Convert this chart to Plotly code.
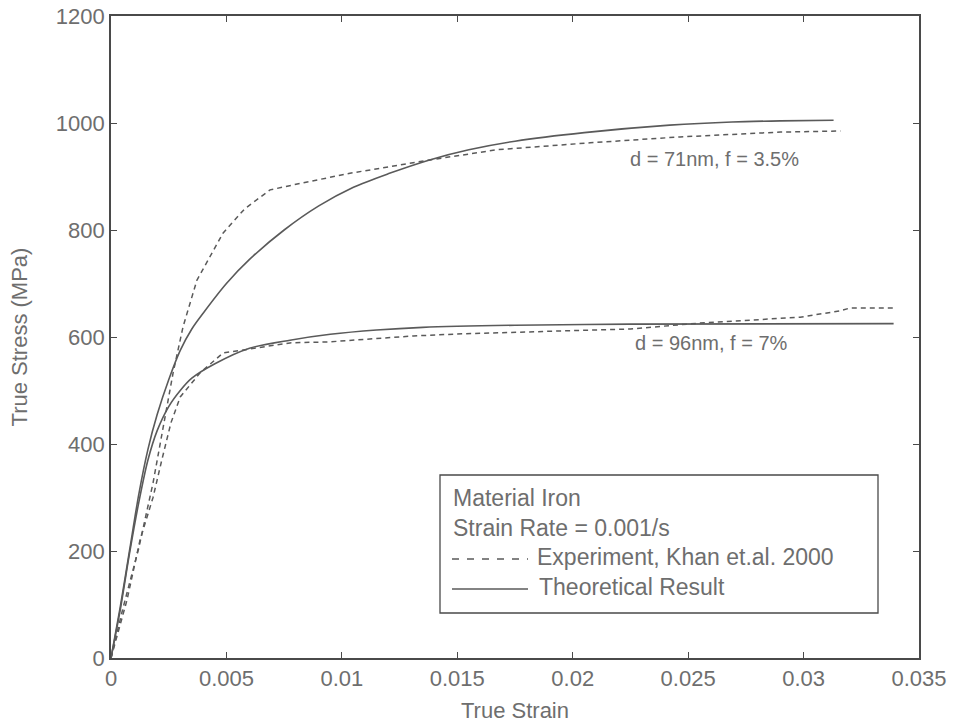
import plotly.graph_objects as go

# ---- data ----
theo71_x = [0, 0.0004, 0.0008, 0.0012, 0.0016, 0.002, 0.0025, 0.003, 0.0035, 0.004, 0.005,
            0.006, 0.0075, 0.009, 0.0105, 0.012, 0.0138, 0.0155, 0.0175, 0.0205, 0.0242,
            0.0269, 0.029, 0.0313]
theo71_y = [0, 95, 200, 305, 390, 455, 520, 575, 615, 645, 700,
            745, 800, 845, 880, 905, 931, 950, 966, 982, 996,
            1002, 1004, 1005]

exp71_x = [0, 0.0005, 0.0012, 0.00182, 0.00269, 0.00312, 0.00372, 0.00485, 0.0058, 0.00689,
           0.0083, 0.00949, 0.01035, 0.01382, 0.01672, 0.02075, 0.02465, 0.029, 0.0316]
exp71_y = [0, 90, 205, 327, 533, 619, 706, 794, 840, 875,
           888, 899, 906, 931, 950, 963, 974, 983, 985]

theo96_x = [0, 0.0004, 0.0008, 0.0012, 0.0016, 0.002, 0.0025, 0.003, 0.0035, 0.0045, 0.006,
            0.00775, 0.0095, 0.0115, 0.0135, 0.0175, 0.0225, 0.0339]
theo96_y = [0, 90, 195, 290, 370, 425, 470, 500, 523, 550, 579,
            594, 605, 613, 618, 622, 624, 625]

exp96_x = [0, 0.00069, 0.00126, 0.00182, 0.0022, 0.0026, 0.003, 0.00386, 0.00485, 0.0058,
           0.00775, 0.00949, 0.0131, 0.01525, 0.0176, 0.0225, 0.0255, 0.02885, 0.02985, 0.0316,
           0.032, 0.03387]
exp96_y = [0, 108, 221, 300, 370, 440, 488, 533, 570, 576,
           589, 591, 602, 606, 609, 615, 626, 634, 637, 649,
           654, 654]

x_ticks = [0, 0.005, 0.01, 0.015, 0.02, 0.025, 0.03, 0.035]
x_tick_labels = ["0", "0.005", "0.01", "0.015", "0.02", "0.025", "0.03", "0.035"]
y_ticks = [0, 200, 400, 600, 800, 1000, 1200]
y_tick_labels = ["0", "200", "400", "600", "800", "1000", "1200"]

legend_lines = ["Material Iron", "Strain Rate = 0.001/s",
                "Experiment, Khan et.al. 2000", "Theoretical Result"]
curve_labels = ["d = 71nm, f = 3.5%", "d = 96nm, f = 7%"]

LINE = "#5a5a5a"
TEXT = "#6e6e6e"
AXIS = "#4a4a4a"
FONT = "Liberation Sans, Arial, sans-serif"

fig = go.Figure()
fig.add_trace(go.Scatter(x=theo71_x, y=theo71_y, mode="lines",
                         line=dict(color=LINE, width=1.6, shape="spline", smoothing=0.8)))
fig.add_trace(go.Scatter(x=exp71_x, y=exp71_y, mode="lines",
                         line=dict(color=LINE, width=1.5, dash="5px,4px")))
fig.add_trace(go.Scatter(x=theo96_x, y=theo96_y, mode="lines",
                         line=dict(color=LINE, width=1.6, shape="spline", smoothing=0.8)))
fig.add_trace(go.Scatter(x=exp96_x, y=exp96_y, mode="lines",
                         line=dict(color=LINE, width=1.5, dash="5px,4px")))

# curve labels
fig.add_annotation(x=0.02616, y=933, text=curve_labels[0], showarrow=False,
                   font=dict(family=FONT, size=20, color=TEXT))
fig.add_annotation(x=0.02603, y=589, text=curve_labels[1], showarrow=False,
                   font=dict(family=FONT, size=20, color=TEXT))

# legend box (pixel geometry expressed in paper fractions)
W, H = 958, 726
L, R, T, B = 111, 39, 16, 68
pw, ph = W - L - R, H - T - B
def px(xp):
    return (xp - L) / pw
def py(yp):
    return (H - B - yp) / ph

fig.add_shape(type="rect", xref="paper", yref="paper",
              x0=px(440), x1=px(878), y0=py(613), y1=py(475),
              line=dict(color=AXIS, width=1.3), fillcolor="white", layer="above")
rows_y = [498, 528, 557, 587]
fig.add_annotation(xref="paper", yref="paper", x=px(451), y=py(rows_y[0]), xanchor="left",
                   yanchor="middle", text=legend_lines[0], showarrow=False,
                   font=dict(family=FONT, size=23, color=TEXT))
fig.add_annotation(xref="paper", yref="paper", x=px(451), y=py(rows_y[1]), xanchor="left",
                   yanchor="middle", text=legend_lines[1], showarrow=False,
                   font=dict(family=FONT, size=23, color=TEXT))
fig.add_annotation(xref="paper", yref="paper", x=px(535), y=py(rows_y[2]), xanchor="left",
                   yanchor="middle", text=legend_lines[2], showarrow=False,
                   font=dict(family=FONT, size=23, color=TEXT))
fig.add_annotation(xref="paper", yref="paper", x=px(537), y=py(rows_y[3]), xanchor="left",
                   yanchor="middle", text=legend_lines[3], showarrow=False,
                   font=dict(family=FONT, size=23, color=TEXT))
fig.add_shape(type="line", xref="paper", yref="paper", x0=px(452), x1=px(528),
              y0=py(rows_y[2] + 2), y1=py(rows_y[2] + 2),
              line=dict(color=LINE, width=1.5, dash="7px,8px"), layer="above")
fig.add_shape(type="line", xref="paper", yref="paper", x0=px(452), x1=px(528),
              y0=py(rows_y[3] + 2), y1=py(rows_y[3] + 2),
              line=dict(color=LINE, width=1.6), layer="above")

axis_common = dict(showgrid=False, zeroline=False, showline=True, linecolor=AXIS, linewidth=1.6,
                   mirror="ticks", ticks="inside", ticklen=6, tickcolor=AXIS, tickwidth=1.3,
                   tickfont=dict(family=FONT, size=22, color=TEXT))
fig.update_xaxes(range=[0, 0.035], tickvals=x_ticks, ticktext=x_tick_labels,
                 title=dict(text="True Strain", font=dict(family=FONT, size=22, color=TEXT), standoff=12),
                 **axis_common)
fig.update_yaxes(range=[0, 1200], tickvals=y_ticks, ticktext=y_tick_labels,
                 title=dict(text="True Stress (MPa)", font=dict(family=FONT, size=22, color=TEXT), standoff=22),
                 **axis_common)

fig.update_layout(width=W, height=H, margin=dict(l=L, r=R, t=T, b=B, autoexpand=False),
                  paper_bgcolor="white", plot_bgcolor="white", showlegend=False)

fig.write_html("out.html")
